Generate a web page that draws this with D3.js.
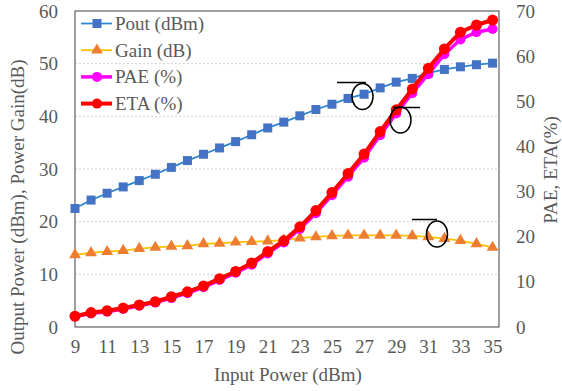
<!DOCTYPE html>
<html><head><meta charset="utf-8">
<script src="https://cdn.jsdelivr.net/npm/d3@7"></script>
<style>body{margin:0;background:#fff}svg{display:block}svg text{font-family:"Liberation Serif" !important}</style>
</head><body><svg id="c" width="562" height="391"></svg>
<script>
const inputPower = [9,10,11,12,13,14,15,16,17,18,19,20,21,22,23,24,25,26,27,28,29,30,31,32,33,34,35];
const pout = [22.5,24.1,25.4,26.6,27.8,29.0,30.3,31.6,32.8,34.0,35.2,36.5,37.8,38.9,40.1,41.3,42.3,43.4,44.2,45.4,46.5,47.2,48.2,48.9,49.4,49.8,50.1];
const gain = [13.7,14.1,14.3,14.5,14.9,15.1,15.3,15.4,15.8,15.9,16.1,16.2,16.3,16.5,16.9,17.1,17.3,17.4,17.4,17.4,17.4,17.3,17.1,16.8,16.4,15.8,15.1];
const pae = [2.3,3.0,3.4,4.0,4.7,5.4,6.4,7.5,8.8,10.4,12.0,13.8,16.3,18.7,21.7,25.2,29.2,33.3,37.5,42.5,47.3,51.8,56.0,60.4,63.7,65.3,66.0];
const eta = [2.4,3.2,3.6,4.2,4.9,5.6,6.7,7.8,9.1,10.7,12.3,14.2,16.7,19.1,22.2,25.8,29.8,34.0,38.3,43.3,48.1,52.7,57.3,61.6,65.3,66.9,68.0];
const xTicks = [9,11,13,15,17,19,21,23,25,27,29,31,33,35];
const leftTicks = [0,10,20,30,40,50,60];
const rightTicks = [0,10,20,30,40,50,60,70];

const svg = d3.select("#c");
const L=75,R=499,T=11,B=327;
const x = d3.scaleLinear().domain([9,35.4]).range([L,R]);
const yL = d3.scaleLinear().domain([0,60]).range([B,T]);
const yR = d3.scaleLinear().domain([0,70]).range([B,T]);
const fs = 19;
const txt = sel => sel.attr("font-family","Liberation Serif").style("font-family",'"Liberation Serif"').attr("font-size",fs).attr("fill","#595959");

// gridlines
svg.append("g").selectAll("line").data(leftTicks.filter(d=>d>0&&d<60)).join("line")
  .attr("x1",L).attr("x2",R).attr("y1",d=>yL(d)).attr("y2",d=>yL(d))
  .attr("stroke","#d0d0d0").attr("stroke-width",1).attr("stroke-dasharray","2,2");

// frame
svg.append("rect").attr("x",L).attr("y",T).attr("width",R-L).attr("height",B-T)
  .attr("fill","none").attr("stroke","#404040").attr("stroke-width",1);

// axes
const ax = svg.append("g").attr("transform",`translate(0,${B})`)
  .call(d3.axisBottom(x).tickValues(xTicks).tickSize(0).tickPadding(13));
const al = svg.append("g").attr("transform",`translate(${L},0)`)
  .call(d3.axisLeft(yL).tickValues(leftTicks).tickSize(0).tickPadding(17));
const ar = svg.append("g").attr("transform",`translate(${R},0)`)
  .call(d3.axisRight(yR).tickValues(rightTicks).tickSize(0).tickPadding(17));
[ax,al,ar].forEach(g=>{g.attr("font-family","Liberation Serif").attr("font-size",fs);g.select(".domain").remove();g.selectAll("text").call(txt);});

// titles
svg.append("text").attr("x",288).attr("y",381).attr("text-anchor","middle").call(txt).text("Input Power (dBm)");
svg.append("text").attr("transform","translate(24,207) rotate(-90)").attr("text-anchor","middle").call(txt).text("Output Power (dBm), Power Gain(dB)");
svg.append("text").attr("transform","translate(557,170) rotate(-90)").attr("text-anchor","middle").call(txt).text("PAE, ETA(%)");

const pts = (vals,y)=>vals.map((v,i)=>[x(inputPower[i]),y(v)]);
const line = d3.line();

// Gain
svg.append("path").attr("d",line(pts(gain,yL))).attr("fill","none").attr("stroke","#FFC000").attr("stroke-width",1.8);
const tri = d3.symbol().type(d3.symbolTriangle).size(60);
svg.append("g").selectAll("path").data(pts(gain,yL)).join("path").attr("d",tri)
  .attr("transform",d=>`translate(${d[0]},${d[1]})`).attr("fill","#ED7D31");

// Pout
svg.append("path").attr("d",line(pts(pout,yL))).attr("fill","none").attr("stroke","#2E86D0").attr("stroke-width",1.8);
svg.append("g").selectAll("rect").data(pts(pout,yL)).join("rect")
  .attr("x",d=>d[0]-4.5).attr("y",d=>d[1]-4.5).attr("width",9).attr("height",9).attr("fill","#4472C4");

// PAE
svg.append("path").attr("d",line(pts(pae,yR))).attr("fill","none").attr("stroke","#FF00FF").attr("stroke-width",3.5);
svg.append("g").selectAll("circle").data(pts(pae,yR)).join("circle")
  .attr("cx",d=>d[0]).attr("cy",d=>d[1]).attr("r",5).attr("fill","#FF00FF");

// ETA
svg.append("path").attr("d",line(pts(eta,yR))).attr("fill","none").attr("stroke","#FF0000").attr("stroke-width",4);
svg.append("g").selectAll("circle").data(pts(eta,yR)).join("circle")
  .attr("cx",d=>d[0]).attr("cy",d=>d[1]).attr("r",5.5).attr("fill","#FF0000");

// annotations
const ann = [
  {cx:362.5,cy:96.5,lx1:337,lx2:366,ly:82.5},
  {cx:400.5,cy:120,lx1:393,lx2:420,ly:107.5},
  {cx:437,cy:234,lx1:412,lx2:437,ly:219.5}
];
ann.forEach(a=>{
  svg.append("ellipse").attr("cx",a.cx).attr("cy",a.cy).attr("rx",10.5).attr("ry",13).attr("fill","none").attr("stroke","#000").attr("stroke-width",1.5);
  svg.append("line").attr("x1",a.lx1).attr("x2",a.lx2).attr("y1",a.ly).attr("y2",a.ly).attr("stroke","#000").attr("stroke-width",1.5);
});

// legend
const leg = [
  {name:"Pout (dBm)",line:"#2E86D0",lw:1.8,mark:"sq",fill:"#4472C4"},
  {name:"Gain (dB)",line:"#FFC000",lw:1.8,mark:"tri",fill:"#ED7D31"},
  {name:"PAE (%)",line:"#FF00FF",lw:3.5,mark:"c",fill:"#FF00FF"},
  {name:"ETA (%)",line:"#FF0000",lw:4,mark:"c",fill:"#FF0000"}
];
leg.forEach((d,i)=>{
  const y = 23.5 + i*26.7;
  svg.append("line").attr("x1",81).attr("x2",112).attr("y1",y).attr("y2",y).attr("stroke",d.line).attr("stroke-width",d.lw);
  if(d.mark==="sq") svg.append("rect").attr("x",97-4.5).attr("y",y-4.5).attr("width",9).attr("height",9).attr("fill",d.fill);
  else if(d.mark==="tri") svg.append("path").attr("d",tri).attr("transform",`translate(97,${y})`).attr("fill",d.fill);
  else svg.append("circle").attr("cx",97).attr("cy",y).attr("r",5).attr("fill",d.fill);
  svg.append("text").attr("x",115).attr("y",y+6.5).call(txt).text(d.name);
});
</script></body></html>
